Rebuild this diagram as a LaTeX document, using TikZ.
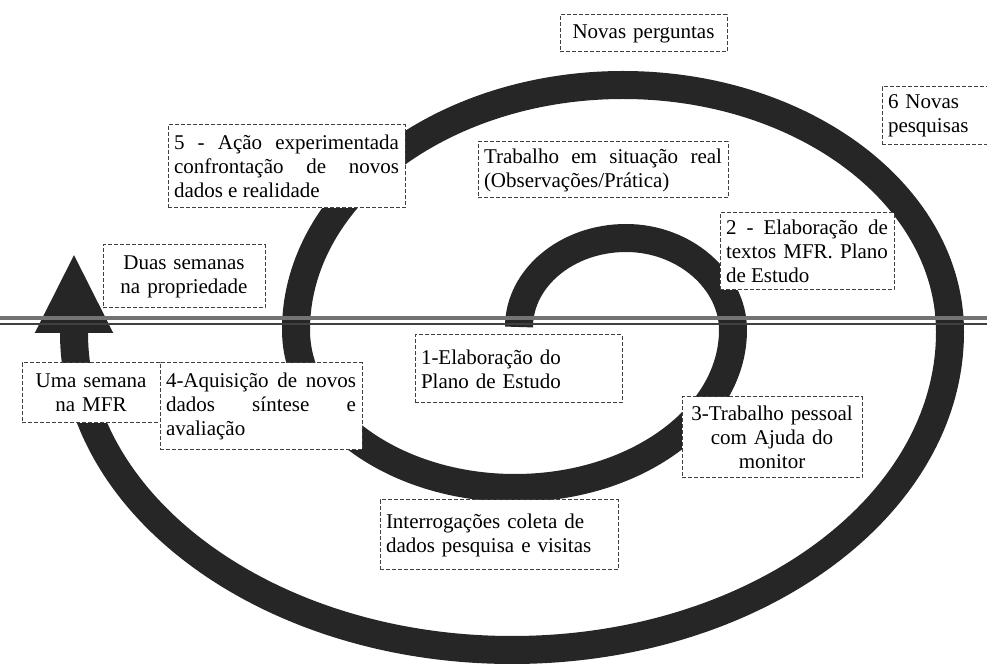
\documentclass[tikz,border=0pt]{standalone}
\usepackage{fontspec}
\setmainfont{Liberation Serif}
\usetikzlibrary{arrows.meta}

\begin{document}
\begin{tikzpicture}[
    x=0.5pt, y=-0.5pt,
    box/.style={rectangle, draw=black!75, dash pattern=on 2pt off 1pt, line width=0.5pt, fill=white, inner sep=3pt, font=\fontsize{10.5}{12}\selectfont},
    jbox/.style={box, align=justify},
    lbox/.style={box, align=left},
    cbox/.style={box, align=center},
    ring/.style={line width=14pt, draw=black!85},
    spiraltip/.style={-{Triangle[length=40pt,width=36pt]}}
]
    \useasboundingbox (0,0) rectangle (987,668);

    % Spiral
    \draw [ring, spiraltip] (519,327) .. controls (519,278) and (567,238) .. (626,238)
        .. controls (685,238) and (733,281) .. (733,330)
        .. controls (733,417) and (635,488) .. (515,488)
        .. controls (395,488) and (296,417) .. (296,330)
        .. controls (296,195) and (443,85) .. (623,85)
        .. controls (803,85) and (950,195) .. (950,332)
        .. controls (950,507) and (754,650) .. (512,650)
        .. controls (270,650) and (74,507) .. (74,333)
        -- (74,253);

    % Double line
    \coordinate (lineW) at (0,318);
    \coordinate (lineE) at (987,318);
    \draw [line width=2pt, black!55] (lineW) -- (lineE);
    \draw [line width=0.8pt, black!75] (0,324) -- (987,324);

    % Boxes
    \node [cbox, text width=77.5pt, minimum height=18.5pt] (novas) at (643.5,33.5) {Novas perguntas};
    \node [lbox, text width=53pt, minimum height=29pt] (pesquisas) at (941,116) {6 Novas\\pesquisas};
    \node [jbox, text width=112.5pt, minimum height=41.5pt] (acao) at (286.5,166.5) {5 - Ação experimentada\linebreak confrontação de novos\linebreak dados e realidade};
    \node [jbox, text width=119pt, minimum height=28pt] (real) at (603,170) {Trabalho em situação real\linebreak (Observações/Prática)};
    \node [jbox, text width=81pt, minimum height=38.5pt] (textos) at (807,251.5) {2 - Elaboração de\linebreak textos MFR. Plano\linebreak de Estudo};
    \node [cbox, text width=75pt, minimum height=31.5pt] (duas) at (184,276.5) {Duas semanas\\na propriedade};
    \node [cbox, text width=63pt, minimum height=30pt] (uma) at (91,393) {Uma semana\\na MFR};
    \node [jbox, text width=95pt, minimum height=43.5pt] (aquisicao) at (261,406.5) {4-Aquisição de novos\linebreak dados síntese e\linebreak avaliação};
    \node [lbox, text width=97.5pt, minimum height=34pt] (elaboracao) at (518.5,369) {1-Elaboração do\\Plano de Estudo};
    \node [cbox, text width=84pt, minimum height=40.5pt] (trabalho) at (772,437.5) {3-Trabalho pessoal\\com Ajuda do\\monitor};
    \node [lbox, text width=113pt, minimum height=35pt] (interrog) at (499,535) {Interrogações coleta de\\dados pesquisa e visitas};

\end{tikzpicture}
\end{document}
